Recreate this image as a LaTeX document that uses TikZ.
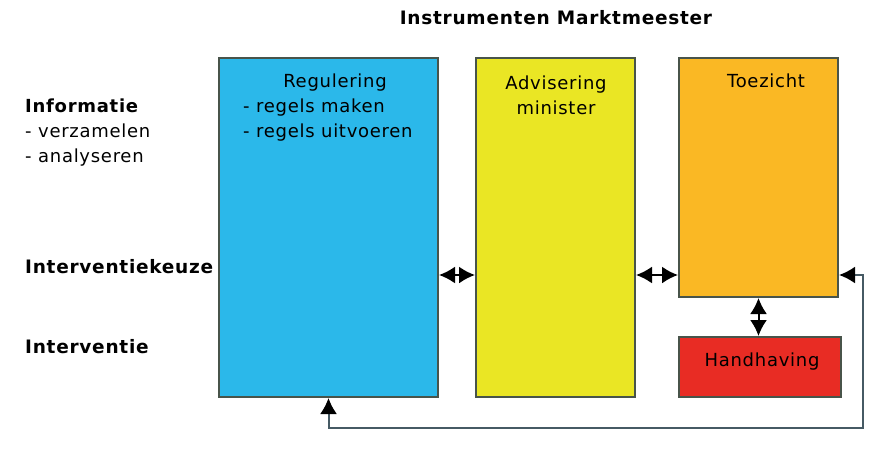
\documentclass[tikz,border=0pt]{standalone}
\usepackage{fontspec}
\setmainfont{DejaVu Sans}[LetterSpace=4]
\usetikzlibrary{positioning,arrows.meta}
\definecolor{regblauw}{RGB}{43,184,234}
\definecolor{adviesgeel}{RGB}{234,230,36}
\definecolor{toezichtoranje}{RGB}{250,184,36}
\definecolor{handhavingrood}{RGB}{232,44,36}
\definecolor{kaderlijn}{RGB}{72,84,74}
\definecolor{teruglijn}{RGB}{70,90,100}
\begin{document}
\begin{tikzpicture}[x=1pt,y=-1pt,
  blok/.style={draw=kaderlijn,line width=2pt,anchor=north west,inner sep=0pt},
  kop/.style={font=\bfseries\fontsize{18.5}{25}\selectfont,inner sep=0pt},
  tekst/.style={font=\fontsize{18}{25}\selectfont,inner sep=0pt},
  pijl/.style={line width=2pt,{Latex[length=16pt,width=17pt]}-{Latex[length=16pt,width=17pt]}},
  terug/.style={draw=teruglijn,line width=2pt,{Latex[length=16pt,width=17pt,color=black]}-{Latex[length=16pt,width=17pt,color=black]}}]
\pgfmathsetmacro{\kbreed}{159}
\pgfmathsetmacro{\khoog}{339}
\useasboundingbox[fill=white] (0,0) rectangle (885,464);
% blokken
\node[blok,fill=regblauw,minimum width=219pt,minimum height=\khoog pt] (regulering) at (218,57) {};
\node[blok,fill=adviesgeel,minimum width=\kbreed pt,minimum height=\khoog pt] (advies) at (475,57) {};
\node[blok,fill=toezichtoranje,minimum width=\kbreed pt,minimum height=239pt] (toezicht) at (678,57) {};
\node[blok,fill=handhavingrood,minimum width=162pt,minimum height=60pt] (handhaving) at (678,336) {};
% teksten in de blokken
\node[tekst] (regkop) at (335,83) {Regulering};
\node[tekst,anchor=north west,align=left] (regpunten) at (243,99) {- regels maken\\- regels uitvoeren};
\node[tekst,align=center,anchor=north] (adviestekst) at (556,76) {Advisering\\minister};
\node[tekst] (toezichttekst) at (766,81) {Toezicht};
\node[tekst] (handhavingtekst) at ([xshift=2pt,yshift=5pt]handhaving) {Handhaving};
% titel en rijen links
\node[kop] (titel) at (556,18) {Instrumenten Marktmeester};
\node[tekst,anchor=north west,align=left] (informatie) at (25,99) {\textbf{Informatie}\\- verzamelen\\- analyseren};
\node[kop,anchor=west] (keuze) at (25,267) {Interventiekeuze};
\node[kop,anchor=west] (interventie) at (25,347) {Interventie};
% verbindingen
\coordinate (hoogte) at (0,275);
\coordinate (hoek) at (863,428);
\draw[pijl] (regulering.east |- hoogte) -- (advies.west |- hoogte);
\draw[pijl] (advies.east |- hoogte) -- (toezicht.west |- hoogte);
\draw[pijl] (toezicht.south) -- (toezicht.south |- handhaving.north);
\draw[terug] (toezicht.east |- hoogte) -| (hoek) -| (regulering.south);
\end{tikzpicture}
\end{document}
